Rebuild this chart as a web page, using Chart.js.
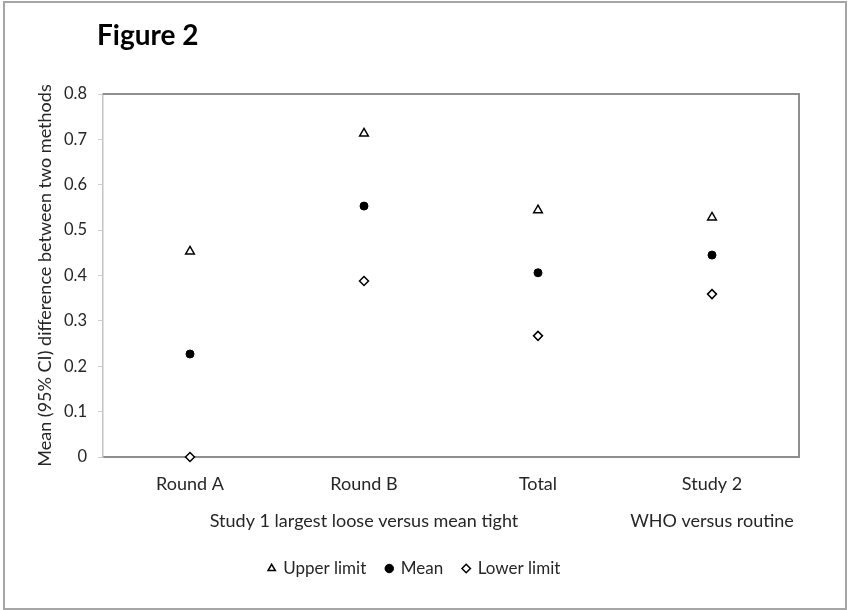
<!DOCTYPE html>
<html>
<head>
<meta charset="utf-8">
<script src="https://cdn.jsdelivr.net/npm/chart.js@4/dist/chart.umd.min.js"></script>
<style>
  html, body { margin: 0; padding: 0; background: #fff; }
  #wrap { position: relative; width: 848px; height: 610px; }
</style>
</head>
<body>
<div id="wrap"><canvas id="c" width="848" height="610"></canvas></div>
<script>
// Categories along the x axis and the study each one belongs to
const categories = ['Round A', 'Round B', 'Total', 'Study 2'];
const groupLabels = ['', 'Study 1 largest loose versus mean tight', '', 'WHO versus routine'];

// Mean difference and its 95% CI per category
const upperLimit = [0.453, 0.713, 0.544, 0.528];
const meanDiff   = [0.227, 0.553, 0.406, 0.445];
const lowerLimit = [0.000, 0.388, 0.267, 0.359];

// Value axis
const yMin = 0, yMax = 0.8, yStep = 0.1;

const TEXT = '#262626';
const FONT = 'Lato';

// Two-line category labels: category name, then the study caption under the middle category
const xLabels = categories.map((c, i) => groupLabels[i] ? [c, groupLabels[i]] : [c]);

// Outer frame, figure caption and the top/right edges of the plot box
const decorations = {
  id: 'decorations',
  beforeDatasetsDraw(chart) {
    const { ctx, chartArea: a } = chart;
    ctx.save();
    ctx.strokeStyle = '#8f8f8f';
    ctx.lineWidth = 2;
    ctx.beginPath();
    ctx.moveTo(a.left, a.top);
    ctx.lineTo(a.right, a.top);
    ctx.lineTo(a.right, a.bottom);
    ctx.stroke();
    ctx.restore();
  },
  afterDraw(chart) {
    const { ctx } = chart;
    ctx.save();
    ctx.strokeStyle = '#a6a6a6';
    ctx.lineWidth = 2;
    ctx.strokeRect(4, 2, 842, 607);
    ctx.fillStyle = '#000';
    ctx.font = 'bold 28px ' + FONT;
    ctx.textBaseline = 'alphabetic';
    ctx.textAlign = 'left';
    ctx.fillText('Figure 2', 97, 45);
    ctx.restore();
  }
};

Chart.defaults.font.family = FONT;
Chart.defaults.color = TEXT;

new Chart(document.getElementById('c'), {
  type: 'line',
  data: {
    labels: xLabels,
    datasets: [
      {
        label: 'Upper limit',
        data: upperLimit,
        showLine: false,
        clip: false,
        pointStyle: 'triangle',
        pointRadius: 5,
        pointHoverRadius: 5,
        pointBackgroundColor: '#fff',
        pointBorderColor: '#000',
        pointBorderWidth: 1.5
      },
      {
        label: 'Mean',
        data: meanDiff,
        showLine: false,
        clip: false,
        pointStyle: 'circle',
        pointRadius: 4,
        pointHoverRadius: 4,
        pointBackgroundColor: '#000',
        pointBorderColor: '#000',
        pointBorderWidth: 1
      },
      {
        label: 'Lower limit',
        data: lowerLimit,
        showLine: false,
        clip: false,
        pointStyle: 'rectRot',
        pointRadius: 4.5,
        pointHoverRadius: 4.5,
        pointBackgroundColor: '#fff',
        pointBorderColor: '#000',
        pointBorderWidth: 1.5
      }
    ]
  },
  options: {
    responsive: false,
    animation: false,
    events: [],
    layout: { padding: { left: 30, right: 49, top: 94, bottom: 23 } },
    plugins: {
      title: { display: false },
      tooltip: { enabled: false },
      legend: {
        position: 'bottom',
        align: 'center',
        labels: {
          usePointStyle: true,
          boxWidth: 6,
          boxHeight: 6,
          padding: 20,
          color: TEXT,
          font: { size: 17, family: FONT }
        }
      }
    },
    scales: {
      x: {
        type: 'category',
        offset: true,
        grid: { display: false, drawTicks: false },
        border: { display: true, color: '#8e8e8e', width: 2 },
        ticks: {
          autoSkip: false,
          maxRotation: 0,
          minRotation: 0,
          padding: 9,
          color: TEXT,
          font: { size: 18, family: FONT, lineHeight: 2.06 }
        },
        afterFit(scale) { scale.height = 83; }
      },
      y: {
        min: yMin,
        max: yMax,
        grid: { drawOnChartArea: false, drawTicks: true, tickLength: 5, tickColor: '#cfcfcf' },
        border: { display: true, color: '#c4c4c4', width: 1.5 },
        ticks: {
          stepSize: yStep,
          padding: 11,
          color: TEXT,
          font: { size: 16.5, family: FONT },
          callback: (v) => String(Math.round(v * 10) / 10)
        },
        title: {
          display: true,
          text: 'Mean (95% CI) difference between two methods',
          color: TEXT,
          font: { size: 18, family: FONT },
          padding: { top: 4, bottom: 4 }
        },
        afterFit(scale) { scale.width = 73; }
      }
    }
  },
  plugins: [decorations]
});
</script>
</body>
</html>
